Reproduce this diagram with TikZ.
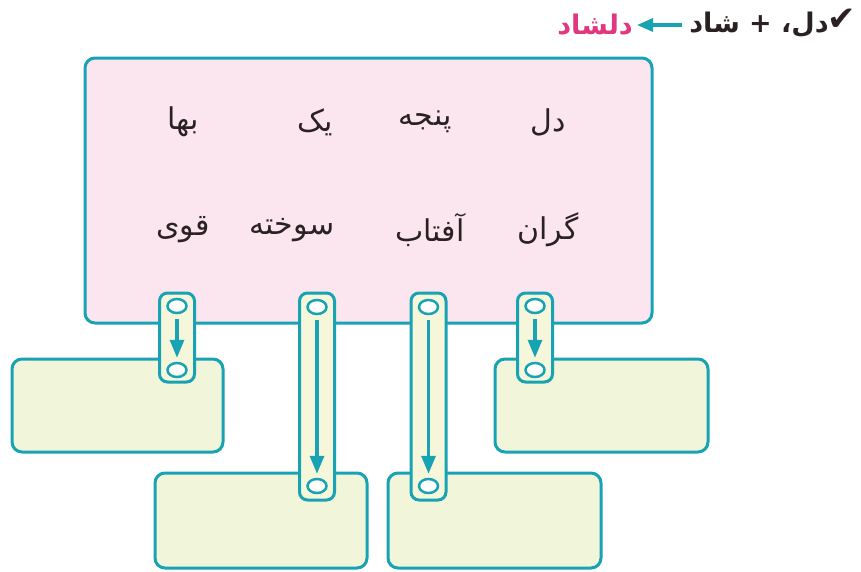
\documentclass[tikz,border=0pt]{standalone}
\usepackage{fontspec}
\usepackage{tikz}
\usetikzlibrary{positioning, arrows.meta, shapes.geometric}
\TeXXeTstate=1
\newfontfamily\arabicfont[Script=Arabic]{DejaVu Sans}
\newfontfamily\symbolfont{DejaVu Sans}
\definecolor{tealline}{HTML}{17A3B3}
\definecolor{pinkfill}{HTML}{FBE6F0}
\definecolor{greenfill}{HTML}{F1F5DA}
\definecolor{tabfill}{HTML}{F6F7DA}
\definecolor{wordpink}{HTML}{E2367E}
\definecolor{inkdark}{HTML}{2A2222}

\begin{document}
\begin{tikzpicture}[x=1pt, y=-1pt,
    card/.style={draw=tealline, line width=3pt, rounded corners=10pt, inner sep=0pt},
    tab/.style={draw=tealline, fill=tabfill, line width=3pt, rounded corners=8pt, minimum width=35pt, inner sep=0pt},
    hole/.style={ellipse, draw=tealline, fill=white, line width=2.5pt, minimum width=19pt, minimum height=14pt, inner sep=0pt},
    word/.style={font=\arabicfont\fontsize{30}{34}\selectfont, text=inkdark},
    title/.style={font=\arabicfont\bfseries\fontsize{27}{32}\selectfont, text=inkdark, inner sep=1pt},
    tabarrow/.style={draw=tealline, line width=3.2pt, -{Triangle[length=18pt, width=14pt]}, shorten <=5pt, shorten >=4pt}]
    \useasboundingbox (0,0) rectangle (861,571);

    % heading
    \node[font=\symbolfont\fontsize{34}{38}\selectfont, text=inkdark, inner sep=0pt, anchor=east] (tick) at (856,20) {✔};
    \node[title, anchor=east] (sum) at (830,25) {\beginR دل، + شاد\endR};
    \node[title, anchor=east, text=wordpink] (res) at (634,25) {\beginR دلشاد\endR};
    \draw[tealline, line width=3.2pt, -{Triangle[length=16pt, width=13pt]}, shorten <=6pt, shorten >=3pt] (sum.west) -- (res.east);

    % word card and answer cards
    \node[card, fill=pinkfill, minimum width=567pt, minimum height=265pt] (words) at (368.5,190.5) {};
    \node[card, fill=greenfill, minimum width=211pt, minimum height=93pt] (boxA) at (117.5,405.5) {};
    \node[card, fill=greenfill, minimum width=212pt, minimum height=95pt] (boxB) at (261,520.5) {};
    \node[card, fill=greenfill, minimum width=213pt, minimum height=95pt] (boxC) at (494.5,520.5) {};
    \node[card, fill=greenfill, minimum width=213pt, minimum height=93pt] (boxD) at (601.5,405.5) {};

    \node[word] (w1) at (548,122) {\beginR دل\endR};
    \node[word] (w2) at (425,122) {\beginR پنجه\endR};
    \node[word] (w3) at (315,122) {\beginR یک\endR};
    \node[word] (w4) at (183,122) {\beginR بها\endR};
    \node[word] (w5) at (548,230) {\beginR گران\endR};
    \node[word] (w6) at (430,230) {\beginR آفتاب\endR};
    \node[word] (w7) at (292,230) {\beginR سوخته\endR};
    \node[word] (w8) at (183,230) {\beginR قوی\endR};

    % tabs
    \node[tab, minimum height=89pt] (tabA) at (177,337.5) {};
    \node[hole] (holeA1) at (177,306) {};
    \node[hole] (holeA2) at (177,370) {};
    \draw[tabarrow] (holeA1) -- (holeA2);

    \node[tab, minimum height=207pt] (tabB) at (317,396.5) {};
    \node[hole] (holeB1) at (317,307) {};
    \node[hole] (holeB2) at (317,486) {};
    \draw[tabarrow] (holeB1) -- (holeB2);

    \node[tab, minimum height=207pt] (tabC) at (428.5,396.5) {};
    \node[hole] (holeC1) at (428.5,307) {};
    \node[hole] (holeC2) at (428.5,486) {};
    \draw[tabarrow] (holeC1) -- (holeC2);

    \node[tab, minimum height=89pt] (tabD) at (535,337.5) {};
    \node[hole] (holeD1) at (535,306) {};
    \node[hole] (holeD2) at (535,370) {};
    \draw[tabarrow] (holeD1) -- (holeD2);
\end{tikzpicture}
\end{document}
